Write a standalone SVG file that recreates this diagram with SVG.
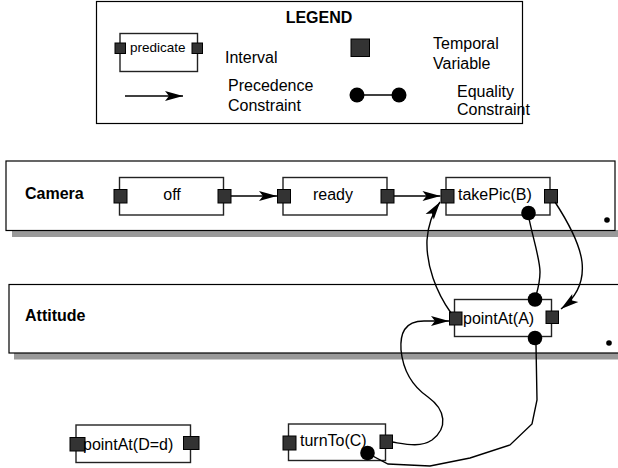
<svg xmlns="http://www.w3.org/2000/svg" width="618" height="468" viewBox="0 0 618 468">
<style>
text{font-family:"Liberation Sans",Arial,sans-serif;font-size:16px;fill:#000}
.b{font-weight:bold}
.sm{font-size:13.5px}
.box{fill:#fff;stroke:#000;stroke-width:1.2}
.iv{fill:#fff;stroke:#222;stroke-width:1.4}
.port{fill:#333;stroke:#000;stroke-width:1}
.sh{fill:#999}
.ln{fill:none;stroke:#000;stroke-width:1.4}
.eq{fill:#000}
</style>
<defs>
<marker id="ah" markerUnits="userSpaceOnUse" markerWidth="20" markerHeight="12" refX="18" refY="5" orient="auto" overflow="visible">
<path d="M0,0 L18,5 L0,10 L4,5 z" fill="#000"/>
</marker>
</defs>

<g id="legend">
<rect class="box" x="96.5" y="1.5" width="426" height="122"/>
<text class="b" x="319" y="23" text-anchor="middle">LEGEND</text>
<rect class="iv" x="120" y="33.5" width="77.5" height="38"/>
<rect class="port" x="115" y="43" width="10.5" height="10.5"/>
<rect class="port" x="192" y="43" width="10.5" height="10.5"/>
<text class="sm" x="130" y="52">predicate</text>
<text x="225" y="63">Interval</text>
<rect class="port" x="351" y="39" width="18.5" height="17.5"/>
<text x="433" y="49">Temporal</text>
<text x="433" y="69">Variable</text>
<line x1="125" y1="96" x2="183" y2="96" class="ln" marker-end="url(#ah)"/>
<text x="228" y="91">Precedence</text>
<text x="228" y="111">Constraint</text>
<line x1="357" y1="95" x2="399" y2="95" class="ln"/>
<circle class="eq" cx="357" cy="95" r="7.5"/>
<circle class="eq" cx="399" cy="95" r="7.5"/>
<text x="457" y="97">Equality</text>
<text x="457" y="115">Constraint</text>
</g>

<g id="camera">
<rect class="sh" x="12" y="230" width="606" height="7"/>
<rect class="box" x="6" y="161" width="609" height="69.5"/>
<text class="b" x="25" y="199">Camera</text>
<circle cx="607" cy="220" r="2.8" fill="#000"/>
</g>

<g id="attitude">
<rect class="sh" x="14" y="353" width="604" height="6.5"/>
<rect class="box" x="9" y="284.5" width="612" height="68.5"/>
<text class="b" x="25" y="321">Attitude</text>
<circle cx="609" cy="343" r="2.8" fill="#000"/>
</g>

<g id="off">
<rect class="iv" x="119.5" y="177.5" width="104" height="37.5"/>
<rect class="port" x="114" y="189.5" width="13" height="13.5"/>
<rect class="port" x="218" y="189.5" width="13" height="13.5"/>
<text x="172" y="200" text-anchor="middle">off</text>
</g>

<g id="ready">
<rect class="iv" x="283" y="177.5" width="104" height="37.5"/>
<rect class="port" x="277.5" y="189.5" width="13" height="13.5"/>
<rect class="port" x="381" y="189.5" width="13" height="13.5"/>
<text x="333" y="200" text-anchor="middle">ready</text>
</g>

<g id="takePic">
<rect class="iv" x="446" y="177.5" width="104" height="37.5"/>
<rect class="port" x="441" y="189.5" width="13" height="13.5"/>
<rect class="port" x="544.5" y="189.5" width="13" height="13.5"/>
<text x="458" y="200">takePic(B)</text>
</g>

<g id="pointAtA">
<rect class="iv" x="454.5" y="299.5" width="97" height="37"/>
<rect class="port" x="449.5" y="312" width="12.5" height="13"/>
<rect class="port" x="546" y="311" width="12.5" height="12.5"/>
<text x="463" y="323.5">pointAt(A)</text>
</g>

<g id="pointAtD">
<rect class="iv" x="76" y="425" width="114.5" height="37.5"/>
<rect class="port" x="70" y="437.5" width="15" height="13.5"/>
<rect class="port" x="183.5" y="436.5" width="15.5" height="13"/>
<text x="83" y="449.5">pointAt(D=d)</text>
</g>

<g id="turnTo">
<rect class="iv" x="288.5" y="424" width="97" height="36.5"/>
<rect class="port" x="283" y="436" width="13" height="14"/>
<rect class="port" x="380" y="435" width="12.5" height="13.5"/>
<text x="300" y="446">turnTo(C)</text>
</g>

<g id="connectors">
<line class="ln" x1="231" y1="196" x2="277" y2="196" marker-end="url(#ah)"/>
<line class="ln" x1="394" y1="196" x2="440.5" y2="196" marker-end="url(#ah)"/>
<path class="ln" d="M451,313 C436,292 426,265 427,240 C428,225 433,212 440,202" marker-end="url(#ah)"/>
<path class="ln" d="M528,213 C531,232 540,258 540,272 C540,284 537,292 535,299"/>
<path class="ln" d="M555,202 C568,222 580,245 582,262 C584,280 578,296 561,309" marker-end="url(#ah)"/>
<path class="ln" d="M392,442 C405,444 420,448 432,440 C448,428 446,410 428,397 C412,386 403,370 401,350 C400,334 404,321 424,321 L449,321" marker-end="url(#ah)"/>
<polyline class="ln" points="367,453 388,464 430,466 470,458 510,445 532,424 537,400 536,345 535,338"/>
<circle class="eq" cx="528.5" cy="213" r="7.3"/>
<circle class="eq" cx="535" cy="299.5" r="7.3"/>
<circle class="eq" cx="535" cy="338" r="7.3"/>
<circle class="eq" cx="367.5" cy="453" r="7.3"/>
</g>
</svg>
